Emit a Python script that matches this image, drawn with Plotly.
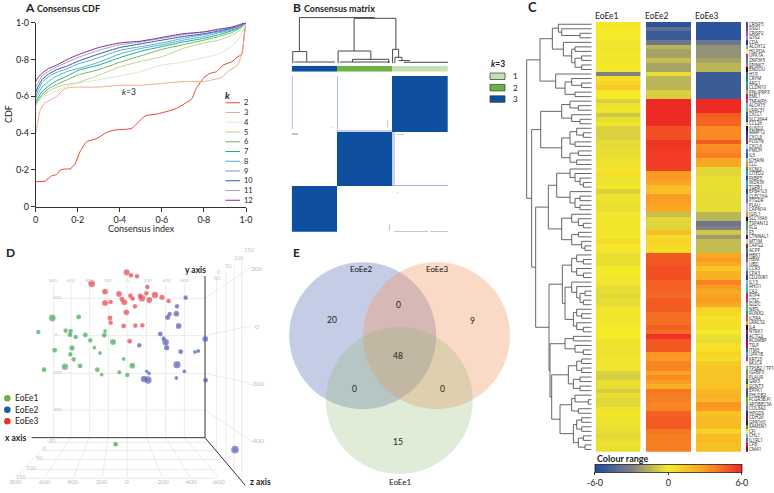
import numpy as np
import plotly.graph_objects as go

W, H = 774, 493
FONT = "Lato"
DARK = "#222222"

# ---------- Panel A: consensus CDF ----------
k2_x = [0, .045, .076, .1, .116, .14, .163, .187, .211, .242, .291, .338, .378, .418, .457, .49, .52, .578, .625, .67, .705, .74, .764, .799, .83, .86, .892, .933, .957, .98, .992, 1]
k2_y = [.136, .139, .168, .175, .199, .205, .205, .232, .299, .353, .371, .404, .417, .42, .426, .462, .493, .504, .518, .534, .558, .583, .643, .701, .725, .734, .77, .788, .812, .83, .94, 1]
k3_x = [0, .01, .02, .04, .1, .13, .15, .2, .3, .4, .5, .6, .7, .8, .84, .88, .92, .96, .98, 1]
k3_y = [.40, .46, .52, .56, .60, .635, .645, .65, .65, .66, .66, .67, .68, .68, .69, .70, .74, .77, .83, 1]
cdf_x = [0, .01, .03, .06, .1, .15, .2, .3, .4, .5, .6, .7, .8, .87, .93, .97, 1]
k4_y = [.55, .57, .59, .61, .63, .655, .67, .69, .71, .735, .77, .785, .81, .83, .87, .92, 1]
k5_y = [.55, .57, .60, .625, .65, .665, .675, .715, .76, .79, .815, .86, .89, .905, .93, .96, 1]
k6_y = [.56, .58, .61, .64, .665, .69, .715, .745, .785, .82, .855, .88, .905, .925, .945, .97, 1]
k7_y = [.57, .59, .625, .655, .685, .71, .74, .77, .81, .845, .87, .895, .915, .935, .955, .975, 1]
k8_y = [.59, .61, .65, .68, .71, .735, .75, .785, .83, .86, .88, .905, .925, .945, .96, .98, 1]
k9_y = [.60, .63, .675, .705, .73, .75, .775, .81, .85, .87, .89, .915, .935, .95, .965, .98, 1]
k10_y = [.62, .65, .69, .72, .745, .765, .79, .83, .865, .885, .905, .925, .94, .955, .97, .985, 1]
k11_y = [.65, .67, .71, .735, .76, .785, .81, .85, .88, .895, .915, .935, .95, .96, .975, .985, 1]
k12_y = [.68, .70, .725, .75, .77, .80, .825, .865, .89, .90, .92, .94, .95, .965, .975, .99, 1]
k_labels = ["2", "3", "4", "5", "6", "7", "8", "9", "10", "11", "12"]
k_colors = ["#e8432e", "#f4a88e", "#dfe9c4", "#b6d68f", "#6fb858", "#22a69a", "#46b6d2", "#6e9fca", "#1f62a8", "#ab9bcc", "#8a2a8e"]
a_ticks = [0, .2, .4, .6, .8, 1]
a_ticktext = ["0", "0·2", "0·4", "0·6", "0·8", "1·0"]

# ---------- Panel B: consensus matrix ----------
b_sizes = [45, 55, 56]
b_rows = [56, 54, 46]
b_tree_col = [7.7, 83, None, 7.7, 7.7, None, 1, 15, None, 1, 1, None, 15, 15, None, 2.5, 43, None,
              62.3, 104, None, 62.3, 62.3, None, 104, 104, None, 46.3, 79, None, 46.3, 46.3, None, 79, 79, None,
              60.7, 96.7, None, 60.7, 60.7, None, 96.7, 96.7, None, 48, 98, None,
              100.7, 106.7, None, 100.7, 100.7, None, 106.7, 106.7, None, 103, 110, None, 103, 103, None, 110, 110, None,
              106.7, 118, None, 112, 156]
b_tree_h = [45.7, 45.7, None, 45.7, 11.7, None, 11.7, 11.7, None, 11.7, 0, None, 11.7, 1.7, None, 1.3, 1.3, None,
            45, 45, None, 45, 12.3, None, 45, 14, None, 12.3, 12.3, None, 12.3, 0, None, 12.3, 4, None,
            4, 4, None, 4, 1.3, None, 4, 0, None, 1.3, 1.3, None,
            14, 14, None, 14, 0, None, 14, 6, None, 6, 6, None, 6, 0, None, 6, 2.7, None,
            2.7, 2.7, None, 1, 1]
b_strips = [(0, 53, 0, 1, .3), (0, 55, 45, 46, .35), (54, 56, 46, 100, .25), (44, 51, 95, 96, .3),
            (56, 110, 100, 103, .25), (58, 59, 105, 112, .3), (109, 110, 100, 156, .4),
            (155, 156, 102, 136, .4), (155, 156, 138, 156, .4), (57, 59, 0, 6, .3),
            (148, 155, 97, 98, .3), (116, 117, 105, 106, .3), (51, 52, 39, 40, .3)]
b_key_labels = ["1", "2", "3"]
b_key_colors = ["#c6e0b4", "#6ab344", "#0f4fa0"]

# ---------- Panel C: heat map ----------
genes = ["CRISP3", "DSG1", "CRISP2", "GYS2", "CDA", "ALOX12", "HILPDA", "UPK1A", "ZNF365", "SPINK7", "ENDOU", "H19", "CRYM", "ARG1", "CLDN10", "PNLIPRP3", "EML1",
         "TNFAIP6", "ALOX15", "LRRC31", "CXCL1", "SLC26A4", "CCL26", "SUSD2", "MMP12", "CXCL8", "POSTN", "CXCL6", "PMCH", "IL5", "JCHAIN", "CLC",
         "KCNJ2", "CITED2", "FKBP5", "WDR36", "TGFB1", "EPB41L3", "CLEC16A", "PTGDR", "PLAU", "CAPN14", "IGFL1", "SLC16A6", "TSPAN12", "FLG", "F3", "CTNNAL1", "MT1M", "CAPG2", "ACPP",
         "HBK1", "HBM", "UBD", "CCR3", "CPA3", "CD200R1", "IL13", "AHO1", "CA2", "RTP4", "CTSC", "GLDC", "NEFL", "RUNX2", "IL5RA", "LRRC32", "IL4", "NTRK1", "ACTG2", "RCSMBP", "TSLP", "ITM3", "UPK1B", "KRT23", "MUC4", "TPSB2 / TP1", "IGFBP3", "PLAUR", "GRK5", "GCNT3", "EPPK1", "PHLDB2", "FCGR3B,FI", "APOBEC3A", "COL8A2", "HPGDS", "CDH26", "GPR160", "SAMSN1", "CFI", "CHL1", "IL1RL1", "CFB", "CMA1"]
eoe1_vals = [.1, .05, .05, .05, -.15, -.15, -.1, -.05, -.1, -.05, -.05, -3, .4, .8, 1.2, .1, 0,
             -.7, -.25, -.1, -1, -.3, -.1, -.7, -.7, -.7, -.4, -.4, -.3, -.3, -.2, -.2,
             -.1, .5, -.2, -.2, .1, -.7, -.2, -.2, -.3, -.3, -.1, -.1, -.1, -.1, .2, -.1, .6, .2, -.1,
             -.3, -.3, -.3, 0, 0, -.1, -.1, -.4, -.4, -.5, -.4, -.4, -.1, -.1, -.1, -.1, 0, 0, 0, -.2, -.2, -.2, -.2, -.1, -.1, -.1, -.7, -.8, -.3, -.3, -.8, -.3, -.5, -.5, -.2, .2, -.2, -.2, -.2, -.4, -.5, -.3, -.2, -.3]
eoe2_vals = [-5.5, -4, -5, -5, -3.5, -1.5, -2, -2, -1.2, -2, -2, -.3, -1.5, -1.5, -1.5, -.7, -.8,
             6, 6, 6, 6, 6, 6, 5, 5, 5, 5.7, 5.7, 5.5, 5.5, 5.5, 5.5,
             5.5, 3, 3, 2.7, 1.7, 1.7, 3, 3, 2.7, 2.5, -1.2, -.5, -.5, -.6, 1.7, .7, .8, .6, .5,
             4.8, 4.8, 4.8, 5, 5, 5, 4.6, 4.6, 4.5, 4.3, 4.7, 4.7, 4.7, 4.2, 4.2, 4.2, 4.6, 4.2, 5.8, 4.8, 4.8, 4.8, 3.2, 3, 3.6, 3.6, 2.8, 3.4, 2.9, 2.2, 4, 3.8, 3.8, 3.6, 3.6, 4.6, 4.7, 4.7, 4.7, 4, 3.8, 3.8, 3.8, 3.8]
eoe3_vals = [-5.5, -5.5, -5.5, -5.5, -3.5, -2.5, -2.5, -2.5, -2, -1.5, -1.5, -5, -5, -5, -5, -5, -5,
             6, 6, 6, 4.7, 4.5, 4.5, 3.5, 3.5, 3.5, 4.7, 3.3, 3.5, 3.8, 2.5, 2.5,
             -.5, -.5, -.3, -.3, -.3, -.3, -.4, -.4, -.4, -.4, -1.5, -1.5, -3.5, -3, -1, -2.2, -1.3, -1.3, -1.3,
             2.5, 3, 2.5, 1.5, 2.2, 2.2, 3.7, 3, 2.5, 2.7, 3, 2.5, .8, .7, .3, .5, .5, 0, -.3, -.4, .3, .5, .8, .5, 1.2, 1.5, 1.5, 1.5, 1.5, 1.5, 2, 2.2, 2, 3.2, 3, 1.5, 1.8, 1.8, 1.8, .8, 1.8, 1.8, 1.5, 1.6]
tag_colors = ["#5b3a9e", "#7a3fa5", "#a04fb0", "#c27ac4", "#243b8f", "#7fa8d8", "#f6ee6a", "#b0387a", "#2a8f8a", "#d05aa0", "#111111", "#1f6fb5", "#1a7a6a", "#18a8a0", "#3a7fc0", "#b8a030", "#8a2a8a",
              "#d0307f", "#6ab0e0", "#6ab344", "#2a5fb0", "#2a4f90", "#c8d87a", "#101030", "#1f2f80", "#1f3f9f", "#a01f2f", "#a8d0e8", "#3f6fb0", "#1f5fb0", "#70c8c0", "#f07f30",
              "#1a9a50", "#30a0c0", "#2050a0", "#20a0d0", "#40a060", "#503090", "#30a0a0", "#7070c0", "#f0a0b0", "#c0c0c0", "#e08040", "#101010", "#40a080", "#808080", "#70c0a0", "#701040", "#c0d0b0", "#703020", "#209060",
              "#7030a0", "#707050", "#e090c0", "#60c0c0", "#606060", "#303090", "#70c0b0", "#40b0d0", "#30b0c0", "#c03030", "#e01090", "#70b040", "#40a0d0", "#309060", "#e04050", "#f0a020", "#101010", "#a02040", "#203090", "#901050", "#a01050", "#207070", "#30a0e0", "#d02090", "#f8f0e0", "#b0a890", "#40b060", "#e06090", "#107040", "#b0b020", "#7040a0", "#206040", "#60b050", "#50b050", "#9060b0", "#203080", "#a01030", "#202020", "#50a030", "#f0e040", "#50c0e0", "#5070b0", "#d02030", "#801020"]
# merge distance, branch, branch
tree_c = (195,
          (155,
           (118, (100, 0, (90, 1, (35, 2, 3))), (85, 4, (60, (50, 5, 6), (50, (30, 7, 8), (30, 9, 10))))),
           (108, 11, (80, (60, 12, (30, 13, 14)), (50, 15, 16)))),
          (180,
           (153,
            (90, (65, 17, (40, 18, 19)), (60, 20, (35, 21, 22))),
            (90, (65, (45, 23, (25, 24, 25)), (50, 26, 27)), (65, (40, 28, 29), (45, 30, 31)))),
           (168,
            (130,
             (105, (65, 32, (50, 33, (35, 34, (25, 35, 36)))), (65, 37, (50, (35, 38, 39), (35, 40, 41)))),
             (90, (60, 42, (40, 43, (25, 44, 45))), (60, (40, 46, 47), (30, 48, (20, 49, 50))))),
            (128,
             (88, (60, (45, 51, (25, 52, 53)), (45, 54, (25, 55, 56))),
              (80, (60, 57, (45, 58, (35, (20, 59, 60), (25, 61, 62)))), (55, (45, 63, (30, 64, 65)), (45, 66, (25, 67, 68))))),
             (125,
              (80, (55, 69, 70), (50, 71, (25, 72, 73))),
              (120,
               (70, (45, (30, 74, 75), (30, 76, 77)), (55, (35, 78, 79), (35, 80, 81))),
               (95, (60, (50, 82, (10, 83, 84)), (40, 85, 86)), (55, (45, (30, 87, 88), (30, 89, 90)), (40, (25, 91, 92), (20, 93, 94))))))))))
c_scale = [[0, "#1a4ba0"], [.25, "#7f7f86"], [.5, "#f5ea28"], [.75, "#fb9c22"], [1, "#ee2a24"]]
c_ticks = [-6, 0, 6]
c_ticktext = ["-6·0", "0", "6·0"]

# ---------- Panel D: projected 3D positions ----------
eoe1_x = [157, 236, 115, 197, 212, 210, 227, 256, 315, 313, 271, 339, 283, 216, 164, 211, 300, 221, 371, 132, 195, 240, 292, 397, 305, 358, 382, 347]
eoe1_y = [234, 231, 276, 272, 273, 284, 291, 285, 273, 286, 301, 306, 323, 324, 331, 343, 339, 358, 357, 389, 380, 378, 389, 377, 404, 397, 405, 613]
eoe1_r = [18, 13, 12, 12, 12, 13, 12, 13, 10, 13, 12, 16, 10, 14, 13, 12, 10, 12, 10, 13, 17, 13, 13, 15, 10, 11, 12, 13]
eoe2_x = [557, 531, 529, 509, 503, 536, 481, 491, 616, 497, 500, 418, 542, 585, 595, 531, 553, 440, 447, 432, 444, 529, 617, 705]
eoe2_y = [173, 199, 221, 222, 232, 258, 282, 296, 297, 307, 323, 316, 335, 336, 333, 374, 394, 394, 400, 417, 420, 414, 421, 629]
eoe2_r = [12, 12, 15, 12, 14, 15, 13, 12, 15, 17, 14, 12, 13, 10, 10, 19, 10, 9, 10, 17, 19, 10, 13, 20]
eoe3_x = [380, 393, 411, 275, 315, 442, 357, 439, 391, 420, 465, 426, 486, 398, 448, 366, 373, 315, 332, 506, 405, 379, 330, 332, 371, 406, 427, 389]
eoe3_y = [97, 106, 109, 131, 155, 141, 162, 160, 167, 168, 165, 175, 172, 176, 180, 178, 187, 189, 186, 183, 199, 217, 234, 248, 258, 257, 256, 304]
eoe3_r = [16, 12, 12, 18, 15, 12, 15, 12, 12, 13, 17, 17, 14, 12, 15, 13, 15, 16, 12, 12, 12, 15, 13, 12, 13, 12, 12, 13]
d_back_x = [160, 213, 268, 325, 381, 440, 497, 553]
d_front_x = [48, 135, 220, 307, 382, 486, 570, 655]
d_x_labels = ["800", "600", "400", "200", "0", "-200", "-400", "-600"]
d_rows_y = [175, 287, 400, 510]
d_wall_y = [85, 258, 430, 600]
d_y_labels = ["200", "0", "-200", "-400"]
d_floor_y = [607, 632, 658, 688, 715]
d_floor_x = [140, 120, 105, 80, 50]
d_z_labels = ["-50", "0", "50", "100", "150"]
d_wall_x = [650, 678, 702, 725]
d_wall_top = [113, 97, 77, 55]

# ---------- Panel E: Venn ----------
venn_names = ["EoEe2", "EoEe3", "EoEe1"]
venn_counts = ["20", "0", "9", "48", "0", "0", "15"]


def dx(a, b):
    return [a / W, b / W]


def dy(a, b):
    return [1 - b / H, 1 - a / H]


HIDE = dict(visible=False, showgrid=False, zeroline=False)
fig = go.Figure()
ann = []
shapes = []


def note(x, y, text, size=9, color=DARK, bold=False, anchor="center", xref="paper", yref="paper", angle=0):
    if xref == "paper":
        x = x / W
    if yref == "paper":
        y = 1 - y / H
    ann.append(dict(x=x, y=y, xref=xref, yref=yref, text=f"<b>{text}</b>" if bold else text, showarrow=False,
                    xanchor=anchor, yanchor="middle", textangle=angle, font=dict(size=size, color=color, family=FONT)))


# --- A
AX0, AX1, AY0, AY1 = 35.7, 246, 22.7, 206.7
all_cdf = [k4_y, k5_y, k6_y, k7_y, k8_y, k9_y, k10_y, k11_y, k12_y]
fig.add_trace(go.Scatter(x=k2_x, y=k2_y, mode="lines", line=dict(color=k_colors[0], width=1, shape="spline", smoothing=.5), xaxis="x", yaxis="y"))
fig.add_trace(go.Scatter(x=k3_x, y=k3_y, mode="lines", line=dict(color=k_colors[1], width=1, shape="spline", smoothing=.5), xaxis="x", yaxis="y"))
for ys, c in zip(all_cdf, k_colors[2:]):
    fig.add_trace(go.Scatter(x=cdf_x, y=ys, mode="lines", line=dict(color=c, width=1, shape="spline", smoothing=.5), xaxis="x", yaxis="y"))
for i, (lab, c) in enumerate(zip(k_labels, k_colors)):
    yy = .565 - i * .0530
    fig.add_trace(go.Scatter(x=[.902, .971], y=[yy, yy], mode="lines", line=dict(color=c, width=1.2), xaxis="x", yaxis="y"))
    note(.981, yy, lab, 7.5, xref="x", yref="y", anchor="left")
note(.91, .605, "<b><i>k</i></b>", 9.5, xref="x", yref="y")
note(.445, .625, "<i>k</i>=3", 8.5, xref="x", yref="y")
note(23, 7, "A", 12, bold=True, anchor="left")
note(35, 8, "Consensus CDF", 9, bold=True, anchor="left")
axis_a = dict(showgrid=False, zeroline=False, showline=True, linecolor="#333", linewidth=1, ticks="outside", ticklen=4, tickcolor="#333",
              tickvals=a_ticks, ticktext=a_ticktext, tickfont=dict(size=9, family=FONT, color=DARK), range=[0, 1])
fig.update_layout(xaxis=dict(domain=dx(AX0, AX1), anchor="y", **axis_a), yaxis=dict(domain=dy(AY0, AY1), anchor="x", **axis_a))
note(141, 228, "Consensus index", 9)
note(8, 114, "CDF", 9, angle=-90)

# --- B
BX0, BX1 = 291.7, 448
fig.add_trace(go.Scatter(x=b_tree_col, y=b_tree_h, mode="lines", line=dict(color="#333", width=.9), xaxis="x2", yaxis="y2"))
edges = np.cumsum([0] + b_sizes)
assign = np.zeros(edges[-1], dtype=int)
for i in range(3):
    assign[edges[i]:edges[i + 1]] = i
fig.add_trace(go.Heatmap(z=[assign.tolist()], xaxis="x3", yaxis="y3", showscale=False, zmin=0, zmax=2,
                         colorscale=[[0, b_key_colors[2]], [.5, b_key_colors[1]], [1, b_key_colors[0]]]))
n = int(sum(b_sizes))
mat = np.zeros((n, n))
r = np.cumsum([0] + b_rows)
mat[r[0]:r[1], edges[2]:edges[3]] = 1
mat[r[1]:r[2], edges[1]:edges[2]] = 1
mat[r[2]:r[3], edges[0]:edges[1]] = 1
for r0, r1, c0, c1, v in b_strips:
    mat[r0:r1, c0:c1] = v
fig.add_trace(go.Heatmap(z=mat.tolist(), xaxis="x4", yaxis="y4", showscale=False, zmin=0, zmax=1,
                         colorscale=[[0, "#ffffff"], [1, "#0f4fa0"]]))
fig.update_layout(
    xaxis2=dict(domain=dx(BX0, BX1), range=[0, n], anchor="y2", **HIDE),
    yaxis2=dict(domain=dy(16.7, 63.3), range=[0, 46.6], anchor="x2", **HIDE),
    xaxis3=dict(domain=dx(BX0, BX1), range=[-.5, n - .5], anchor="y3", **HIDE),
    yaxis3=dict(domain=dy(65.7, 71.7), anchor="x3", **HIDE),
    xaxis4=dict(domain=dx(BX0, BX1), range=[-.5, n - .5], anchor="y4", **HIDE),
    yaxis4=dict(domain=dy(76, 231.7), range=[n - .5, -.5], anchor="x4", **HIDE))
note(291, 7, "B", 12, bold=True, anchor="left")
note(302, 8, "Consensus matrix", 9, bold=True, anchor="left")
note(489, 64, "<b><i>k</i>=3</b>", 8.5, anchor="left")
for i, (lab, c) in enumerate(zip(b_key_labels, b_key_colors)):
    y0 = 73 + i * 11.4
    shapes.append(dict(type="rect", xref="paper", yref="paper", x0=490 / W, x1=505 / W, y0=1 - (y0 + 6.5) / H, y1=1 - y0 / H,
                       fillcolor=c, line=dict(color="#333", width=.7)))
    note(511, y0 + 3.2, lab, 8, anchor="left")

# --- C
TOP, BOT = 22, 451.7
xs, ys = [], []


def walk(node):
    if not isinstance(node, tuple):
        return float(node), 0.0
    d, a, b = node
    ya, da = walk(a)
    yb, db = walk(b)
    xs.extend([da, d, d, db, None])
    ys.extend([ya, ya, yb, yb, None])
    return (ya + yb) / 2, d


walk(tree_c)
rows = list(range(len(genes)))
fig.add_trace(go.Scatter(x=xs, y=ys, mode="lines", line=dict(color="#555", width=.9), xaxis="x5", yaxis="y5"))
for ax, vals in zip(["x6", "x7", "x8"], [eoe1_vals, eoe2_vals, eoe3_vals]):
    fig.add_trace(go.Heatmap(z=[[v] for v in vals], y=rows, x=[0], xaxis=ax, yaxis="y5", coloraxis="coloraxis"))
fig.add_trace(go.Bar(x=[1] * len(rows), y=rows, orientation="h", width=1, marker=dict(color=tag_colors, line=dict(width=0)), xaxis="x9", yaxis="y5"))
fig.update_layout(
    xaxis5=dict(domain=dx(520, 591.7), range=[215, 0], anchor="y5", **HIDE),
    xaxis6=dict(domain=dx(595.7, 640.7), anchor="y5", **HIDE),
    xaxis7=dict(domain=dx(646, 691.3), anchor="y5", **HIDE),
    xaxis8=dict(domain=dx(696, 741.3), anchor="y5", **HIDE),
    xaxis9=dict(domain=dx(745.7, 748), range=[0, 1], anchor="y5", **HIDE),
    yaxis5=dict(domain=dy(TOP, BOT), range=[len(rows) - .5, -.5], anchor="x9", side="right", showgrid=False, zeroline=False, showline=False,
                tickmode="array", tickvals=rows, ticktext=genes, ticks="", ticklen=0, tickfont=dict(size=4.5, family="Open Sans", color="#222")),
    coloraxis=dict(colorscale=c_scale, cmin=-6, cmax=6,
                   colorbar=dict(orientation="h", x=(595 + 73.4) / W, xanchor="center", y=1 - 488.5 / H, yanchor="bottom", xpad=0, ypad=0,
                                 len=146.8, lenmode="pixels", thickness=8.4, thicknessmode="pixels", outlinecolor="#222", outlinewidth=.8,
                                 tickmode="array", tickvals=c_ticks, ticktext=c_ticktext, ticks="outside", ticklen=3,
                                 tickfont=dict(size=9, family=FONT, color=DARK))))
note(526, 7, "C", 13, anchor="left", bold=True)
for name, xp in zip(["EoEe1", "EoEe2", "EoEe3"], [607, 657, 707]):
    note(xp, 16, name, 8.5)
note(595, 458.5, "Colour range", 9, bold=True, anchor="left")

# --- D
gx, gy = [], []


def line(x0, y0, x1, y1):
    gx.extend([x0, x1, None])
    gy.extend([y0, y1, None])


for b, f in zip(d_back_x, d_front_x):
    line(b, 130, b, 593)
    line(b, 593, f, 712)
for yy, wy in zip(d_rows_y, d_wall_y):
    line(160, yy, 615, yy)
    line(615, yy, 750, wy)
for yy, xl in zip(d_floor_y, d_floor_x):
    line(xl + 18, yy, 650, yy)
for wx, t in zip(d_wall_x, d_wall_top):
    line(wx, t, wx, 593 + (wx - 615) * 1.18)
fig.add_trace(go.Scatter(x=gx, y=gy, mode="lines", line=dict(color="#e2e2e2", width=.7), xaxis="x10", yaxis="y10"))
fig.add_trace(go.Scatter(x=[95, 615, 615, None, 615, 735], y=[593, 593, 108, None, 593, 735], mode="lines", line=dict(color="#333", width=1), xaxis="x10", yaxis="y10"))
for xd, yd, rd, light, base in [(eoe1_x, eoe1_y, eoe1_r, "#5cb868", "#2f9246"), (eoe2_x, eoe2_y, eoe2_r, "#6a6fcc", "#3a429e"), (eoe3_x, eoe3_y, eoe3_r, "#f0555c", "#dd2f3a")]:
    fig.add_trace(go.Scatter(x=xd, y=yd, mode="markers", xaxis="x10", yaxis="y10", cliponaxis=False,
                             marker=dict(size=[q / 3 * 1.15 for q in rd], color=light, gradient=dict(type="radial", color=base), line=dict(width=0))))
fig.update_layout(xaxis10=dict(domain=dx(0, 270), range=[0, 810], anchor="y10", **HIDE),
                  yaxis10=dict(domain=dy(240, 493), range=[759, 0], anchor="x10", **HIDE))
for b, f, lab in zip(d_back_x, d_front_x, d_x_labels):
    note(b, 122, lab, 4.5, "#c4c4c4", xref="x10", yref="y10")
    note(f, 725, lab, 6.5, "#bdbdbd", xref="x10", yref="y10")
for yy, wy, lab in zip(d_rows_y, d_wall_y, d_y_labels):
    note(170, yy - 3, lab, 4.5, "#c4c4c4", xref="x10", yref="y10")
    note(770, wy, lab, 6.5, "#bdbdbd", xref="x10", yref="y10")
for yy, xl, lab in zip(d_floor_y, d_floor_x, d_z_labels):
    note(xl + 14, yy - 5, lab, 5.5, "#bdbdbd", xref="x10", yref="y10")
for lab, xp, yp in zip(["-50", "0", "50", "100", "150"], [650, 658, 684, 716, 748], [113, 97, 77, 55, 30]):
    note(xp, yp, lab, 5.5, "#c4c4c4", xref="x10", yref="y10")
note(4, 252, "D", 12, bold=True, anchor="left")
note(586, 90, "y axis", 8.5, bold=True, xref="x10", yref="y10")
note(45, 593, "x axis", 8.5, bold=True, xref="x10", yref="y10")
note(780, 727, "z axis", 8.5, bold=True, xref="x10", yref="y10")
for lab, yy, c in zip(["EoEe1", "EoEe2", "EoEe3"], [475, 509, 544], ["#6db33f", "#1559a8", "#e8312a"]):
    fig.add_trace(go.Scatter(x=[22], y=[yy], mode="markers", marker=dict(size=6.5, color=c), xaxis="x10", yaxis="y10"))
    note(40, yy, lab, 8.5, xref="x10", yref="y10", anchor="left")

# --- E
fig.update_layout(xaxis11=dict(domain=dx(270, 520), range=[270, 520], anchor="y11", **HIDE),
                  yaxis11=dict(domain=dy(240, 493), range=[493, 240], anchor="x11", **HIDE))
fig.add_trace(go.Scatter(x=[400], y=[400], mode="markers", marker=dict(size=1, opacity=0), xaxis="x11", yaxis="y11"))
for cx, cy, c in [(362.7, 335.7, "rgba(74,99,176,0.32)"), (436.5, 335.7, "rgba(245,150,100,0.36)"), (399.3, 400.5, "rgba(135,180,100,0.25)")]:
    shapes.append(dict(type="circle", xref="x11", yref="y11", x0=cx - 73.5, x1=cx + 73.5, y0=cy - 73.5, y1=cy + 73.5,
                       fillcolor=c, line=dict(width=0), layer="below"))
for name, xp, yp in zip(venn_names, [361, 436.5, 399.5], [268.5, 268.5, 482]):
    note(xp, yp, name, 8, xref="x11", yref="y11", color="#111")
for txt, xp, yp in zip(venn_counts, [332, 398, 472.5, 398, 354, 442.5, 398], [320, 305, 320.5, 355.5, 389, 389, 441.5]):
    note(xp, yp, txt, 8.5, xref="x11", yref="y11", color="#222")
note(291, 252, "E", 12, bold=True, anchor="left")

fig.update_layout(width=W, height=H, margin=dict(l=0, r=0, t=0, b=0, autoexpand=False), autosize=False, showlegend=False,
                  paper_bgcolor="white", plot_bgcolor="rgba(0,0,0,0)", font=dict(family=FONT, color=DARK),
                  annotations=ann, shapes=shapes, bargap=0)
fig.write_html("out.html", post_script="document.body.style.margin='0';", config=dict(displayModeBar=False))
